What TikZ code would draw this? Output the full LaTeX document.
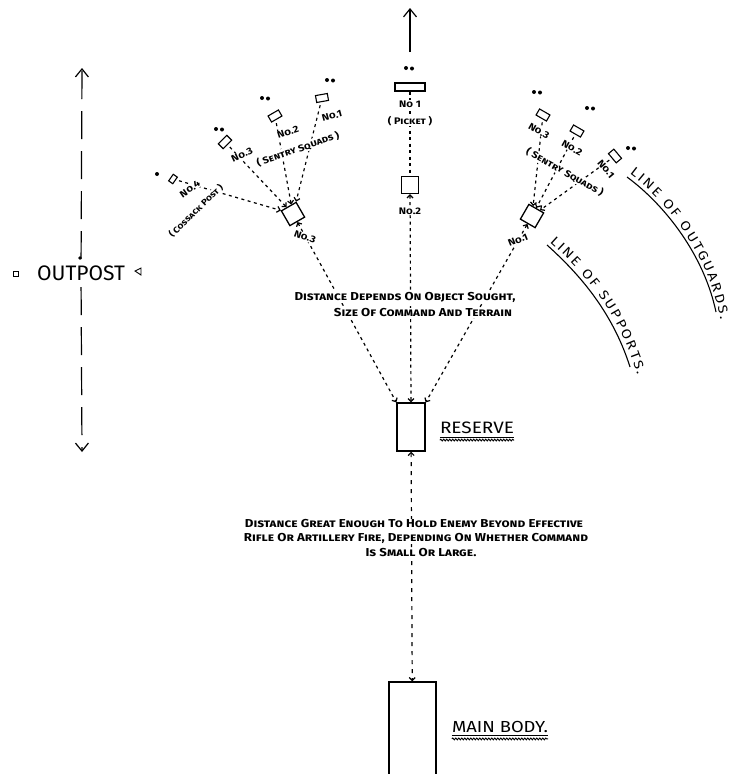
\documentclass[tikz,border=0pt]{standalone}
\usepackage{fontspec}
\setmainfont{Fira Sans}
\newfontfamily\hand[FakeStretch=1.15]{Fira Sans}
\newfontfamily\handsc[FakeStretch=1.15,Letters=SmallCaps]{Fira Sans}
\usetikzlibrary{arrows.meta,decorations.text,decorations.pathmorphing,calc}
\tikzset{
  box/.style={draw, line width=1.3pt, inner sep=0pt},
  sentry/.style={box, minimum width=12pt, minimum height=7pt, line width=1.1pt},
  support/.style={box, minimum width=17pt, minimum height=17pt},
  lbl/.style={font=\handsc\bfseries\fontsize{9.5}{10}\selectfont, inner sep=0.5pt, fill=white},
  note/.style={font=\handsc\bfseries\fontsize{11.5}{12}\selectfont, inner sep=1pt, fill=white},
  title/.style={font=\hand\fontsize{16.5}{16}\selectfont, inner sep=0pt},
  fan/.style={line width=1.2pt, dash pattern=on 3pt off 3.5pt},
  fanlong/.style={line width=1.2pt, dash pattern=on 4pt off 5pt},
  oneTip/.style={-{Straight Barb[length=3pt,width=6pt]}},
  twoTips/.style={{Straight Barb[length=3pt,width=6pt]}-{Straight Barb[length=3pt,width=6pt]}},
  bigarrow/.style={line width=1.2pt, -{Straight Barb[length=8pt,width=13pt]}},
  outline/.style={line width=1.2pt, dash pattern=on 28pt off 12pt},
  uline/.style={line width=1pt},
  wavy/.style={line width=0.9pt, decorate, decoration={snake, amplitude=0.9pt, segment length=3pt}},
  pics/twodots/.style={code={\fill (-3,0) circle (2); \fill (3,0.5) circle (2);}}
}
\begin{document}
\begin{tikzpicture}[x=1pt,y=-1pt]
\useasboundingbox (0,0) rectangle (729,774);
\clip (0,0) rectangle (729,774);

% ---------- boxes ----------
\node[sentry, rotate=10] (L1) at (322,98) {};
\node[sentry, rotate=30] (L2) at (275,116) {};
\node[sentry, rotate=45] (L3) at (225,142) {};
\node[sentry, rotate=55, minimum width=8pt, minimum height=5pt] (L4) at (173,179) {};
\node[support, rotate=30] (S3) at (293,214) {};
\node[sentry, rotate=-30] (R3) at (543,115) {};
\node[sentry, rotate=-30] (R2) at (577,131) {};
\node[sentry, rotate=-50] (R1) at (615,156) {};
\node[support, rotate=-30] (S1) at (532,216) {};
\node[box, minimum width=30pt, minimum height=8pt] (C1) at (410,87) {};
\node[support] (C2) at (410,185) {};
\node[box, minimum width=28pt, minimum height=48pt] (res) at (411,427) {};
\node[box, minimum width=47pt, minimum height=110pt] (main) at (412.5,737) {};

% ---------- dots ----------
\fill (157,174) circle (2);
\pic at (219,129) {twodots};
\pic at (265,98) {twodots};
\pic at (330,80) {twodots};
\pic at (409,68) {twodots};
\pic at (537,92) {twodots};
\pic at (590,108) {twodots};
\pic at (631,148) {twodots};

% ---------- connectors ----------
\draw[fan, oneTip, shorten <=3pt] (L1) -- (S3);
\draw[fan, oneTip, shorten <=3pt] (L2) -- (S3);
\draw[fan, oneTip, shorten <=3pt] (L3) -- (S3);
\draw[fan, oneTip, shorten <=3pt] (L4) -- (S3);
\draw[fan, oneTip, shorten <=3pt] (R1) -- (S1);
\draw[fan, oneTip, shorten <=3pt] (R2) -- (S1);
\draw[fan, oneTip, shorten <=3pt] (R3) -- (S1);
\draw[fan] (C1) -- (C2);
\draw[fan, twoTips] (S3) -- (res.north west);
\draw[fan, twoTips] (C2) -- (res.north);
\draw[fan, twoTips] (S1) -- (res.north east);
\draw[fanlong, twoTips] (res) -- (main);

% ---------- top arrow ----------
\coordinate (upbot) at (410,52);
\coordinate (uptop) at (410,8);
\draw[bigarrow] (upbot) -- (uptop);

% ---------- outpost ----------
\node[font=\fontsize{21}{21}\selectfont, inner sep=0pt, fill=white, minimum height=24pt] (op) at (81,273) {OUTPOST};
\coordinate (optop) at (82,68);
\coordinate (opbot) at (82,452);
\draw[outline, bigarrow, shorten <=14pt] (op.center) -- (optop);
\draw[outline, bigarrow, shorten <=14pt] (op.center) -- (opbot);
\fill (80,258) circle (1.8);
\draw[line width=0.9pt] (13,271) rectangle (18,276);
\draw[line width=0.9pt] (135,271) -- (141,268) -- (141,275) -- cycle;

% ---------- labels ----------
\node[lbl, rotate=15] at (332,116) {No.1};
\node[lbl, rotate=18] at (288,132) {No.2};
\node[lbl, rotate=25] at (242,155) {No.3};
\node[lbl, rotate=19] at (298,149) {( Sentry Squads )};
\node[lbl, rotate=35] at (190,189) {No.4};
\node[lbl, rotate=44, font=\handsc\bfseries\fontsize{8.5}{9}\selectfont] at (196,211) {( Cossack Post )};
\node[lbl, rotate=-20] at (305,237) {No.3};

\node[lbl, rotate=-30] at (539,131) {No.3};
\node[lbl, rotate=-30] at (572,148) {No.2};
\node[lbl, rotate=-50] at (606,169) {No.1};
\node[lbl, rotate=-29] at (565,172) {( Sentry Squads )};
\node[lbl, rotate=22] at (518,240) {No.1};

\node[lbl] at (410,104) {No 1};
\node[lbl] at (410,121) {( Picket )};
\node[lbl] at (410,211) {No.2};

\node[note] at (405,297) {Distance Depends On Object Sought,};
\node[note] at (423,313) {Size Of Command And Terrain};

\node[note] at (414,524) {Distance Great Enough To Hold Enemy Beyond Effective};
\node[note] at (416,538) {Rifle Or Artillery Fire, Depending On Whether Command};
\node[note] at (421,553) {Is Small Or Large.};

% ---------- titles ----------
\node[title] (resl) at (477,428) {RESERVE};
\draw[uline] ($(resl.south west)+(0,3)$) -- ($(resl.south east)+(0,3)$);
\draw[wavy] ($(resl.south west)+(0,6)$) -- ($(resl.south east)+(0,6)$);
\node[title, font=\hand\fontsize{16}{16}\selectfont] (mainl) at (500,727) {MAIN BODY.};
\draw[uline] ($(mainl.south west)+(0,3)$) -- ($(mainl.south east)+(0,3)$);
\draw[wavy] ($(mainl.south west)+(0,6)$) -- ($(mainl.south east)+(0,6)$);

% ---------- curved lines ----------
\draw[line width=1.1pt] (627,177) .. controls (665,205) and (704,255) .. (716,312);
\path[decorate, decoration={text along path, raise=2.5pt, text align={fit to path},
  text={|\hand\fontsize{13}{13}\selectfont|LINE OF OUTGUARDS.}}]
  (628,176) .. controls (666,204) and (706,256) .. (718,320);
\draw[line width=1.1pt] (547,245) .. controls (577,272) and (612,310) .. (630,367);
\path[decorate, decoration={text along path, raise=2.5pt, text align={fit to path},
  text={|\hand\fontsize{13}{13}\selectfont|LINE OF SUPPORTS.}}]
  (548,244) .. controls (578,271) and (615,309) .. (635,376);
\end{tikzpicture}
\end{document}
